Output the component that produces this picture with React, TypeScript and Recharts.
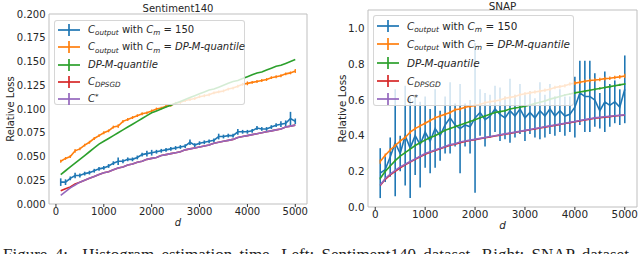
import React from 'react';
import { LineChart, Line, XAxis, YAxis, ErrorBar, ReferenceArea, Legend, Label } from 'recharts';

const D = [100, 200, 300, 400, 500, 600, 700, 800, 900, 1000, 1100, 1200, 1300, 1400, 1500, 1600, 1700, 1800, 1900, 2000, 2100, 2200, 2300, 2400, 2500, 2600, 2700, 2800, 2900, 3000, 3100, 3200, 3300, 3400, 3500, 3600, 3700, 3800, 3900, 4000, 4100, 4200, 4300, 4400, 4500, 4600, 4700, 4800, 4900, 5000];
const X_TICKS = [0, 1000, 2000, 3000, 4000, 5000];

// Sentiment140
const S_Y_TICKS = [0, 0.025, 0.05, 0.075, 0.1, 0.125, 0.15, 0.175, 0.2];
const S_BLUE = [0.023, 0.023, 0.027, 0.030, 0.030, 0.032, 0.033, 0.035, 0.037, 0.038, 0.040, 0.043, 0.045, 0.045, 0.047, 0.047, 0.049, 0.052, 0.053, 0.054, 0.055, 0.056, 0.057, 0.058, 0.059, 0.060, 0.061, 0.065, 0.062, 0.064, 0.065, 0.066, 0.067, 0.071, 0.071, 0.072, 0.072, 0.076, 0.076, 0.076, 0.077, 0.080, 0.079, 0.079, 0.081, 0.083, 0.084, 0.085, 0.090, 0.087];
const S_BLUE_ERR = [0.004, 0.003, 0.002, 0.003, 0.002, 0.002, 0.002, 0.002, 0.002, 0.002, 0.002, 0.002, 0.004, 0.002, 0.002, 0.002, 0.002, 0.002, 0.003, 0.003, 0.002, 0.002, 0.002, 0.002, 0.002, 0.002, 0.002, 0.003, 0.002, 0.002, 0.002, 0.002, 0.002, 0.003, 0.002, 0.002, 0.002, 0.003, 0.002, 0.002, 0.002, 0.002, 0.002, 0.002, 0.002, 0.002, 0.003, 0.003, 0.007, 0.003];
const S_ORANGE = [0.045, 0.048, 0.050, 0.056, 0.058, 0.062, 0.065, 0.069, 0.072, 0.075, 0.077, 0.081, 0.082, 0.087, 0.089, 0.091, 0.093, 0.095, 0.096, 0.098, 0.100, 0.101, 0.103, 0.104, 0.106, 0.107, 0.109, 0.110, 0.111, 0.113, 0.114, 0.115, 0.117, 0.118, 0.119, 0.121, 0.122, 0.124, 0.126, 0.127, 0.128, 0.129, 0.130, 0.131, 0.133, 0.134, 0.135, 0.137, 0.138, 0.140];
const S_ORANGE_ERR = [0.0015, 0.0015, 0.0015, 0.002, 0.0015, 0.0015, 0.0015, 0.0015, 0.0015, 0.0015, 0.0015, 0.0015, 0.002, 0.0015, 0.0015, 0.0015, 0.0015, 0.0015, 0.0015, 0.0015, 0.0015, 0.0015, 0.0015, 0.0015, 0.0015, 0.0015, 0.0015, 0.0015, 0.0015, 0.0015, 0.0015, 0.0015, 0.0015, 0.0015, 0.0015, 0.0015, 0.0015, 0.0015, 0.0015, 0.002, 0.0015, 0.0015, 0.0015, 0.0015, 0.0015, 0.0015, 0.0015, 0.0015, 0.0015, 0.002];
const S_GREEN = [0.031, 0.035, 0.039, 0.043, 0.047, 0.051, 0.055, 0.059, 0.063, 0.066, 0.069, 0.072, 0.075, 0.078, 0.081, 0.084, 0.087, 0.090, 0.093, 0.096, 0.098, 0.100, 0.102, 0.104, 0.106, 0.108, 0.110, 0.112, 0.114, 0.116, 0.118, 0.120, 0.121, 0.123, 0.125, 0.127, 0.129, 0.130, 0.132, 0.134, 0.136, 0.138, 0.139, 0.141, 0.143, 0.145, 0.146, 0.148, 0.150, 0.152];
const S_RED = [0.014, 0.016, 0.018, 0.021, 0.023, 0.025, 0.027, 0.029, 0.031, 0.033, 0.034, 0.036, 0.038, 0.039, 0.041, 0.042, 0.044, 0.045, 0.047, 0.048, 0.049, 0.051, 0.052, 0.053, 0.054, 0.055, 0.057, 0.058, 0.059, 0.060, 0.061, 0.062, 0.064, 0.065, 0.066, 0.067, 0.068, 0.070, 0.071, 0.072, 0.073, 0.074, 0.075, 0.076, 0.077, 0.078, 0.079, 0.081, 0.082, 0.083];
const S_PURPLE = [0.009, 0.013, 0.017, 0.020, 0.023, 0.025, 0.027, 0.029, 0.031, 0.033, 0.034, 0.036, 0.038, 0.039, 0.041, 0.042, 0.044, 0.045, 0.047, 0.048, 0.049, 0.051, 0.052, 0.053, 0.054, 0.055, 0.057, 0.058, 0.059, 0.060, 0.061, 0.062, 0.064, 0.065, 0.066, 0.067, 0.068, 0.070, 0.071, 0.072, 0.073, 0.074, 0.075, 0.076, 0.077, 0.078, 0.079, 0.081, 0.082, 0.083];

// SNAP
const N_Y_TICKS = [0, 0.2, 0.4, 0.6, 0.8, 1.0];
const N_BLUE = [0.19, 0.21, 0.28, 0.36, 0.30, 0.40, 0.33, 0.40, 0.35, 0.42, 0.37, 0.44, 0.40, 0.46, 0.50, 0.46, 0.44, 0.46, 0.45, 0.50, 0.53, 0.49, 0.51, 0.55, 0.52, 0.50, 0.54, 0.51, 0.55, 0.50, 0.53, 0.50, 0.54, 0.51, 0.55, 0.51, 0.54, 0.51, 0.52, 0.56, 0.64, 0.62, 0.62, 0.60, 0.54, 0.59, 0.57, 0.59, 0.56, 0.66];
const N_BLUE_ERR = [0.14, 0.07, 0.11, 0.30, 0.10, 0.28, 0.28, 0.22, 0.24, 0.20, 0.18, 0.22, 0.14, 0.16, 0.20, 0.12, 0.25, 0.12, 0.15, 0.42, 0.13, 0.15, 0.12, 0.13, 0.15, 0.12, 0.18, 0.12, 0.14, 0.13, 0.12, 0.11, 0.16, 0.12, 0.14, 0.11, 0.12, 0.11, 0.10, 0.17, 0.18, 0.20, 0.20, 0.15, 0.10, 0.17, 0.12, 0.12, 0.10, 0.19];
const N_ORANGE = [0.255, 0.29, 0.32, 0.345, 0.37, 0.39, 0.42, 0.44, 0.455, 0.47, 0.485, 0.50, 0.51, 0.52, 0.53, 0.545, 0.55, 0.56, 0.565, 0.57, 0.575, 0.585, 0.59, 0.595, 0.60, 0.61, 0.615, 0.62, 0.63, 0.635, 0.64, 0.645, 0.65, 0.655, 0.66, 0.67, 0.675, 0.68, 0.69, 0.695, 0.70, 0.705, 0.71, 0.712, 0.715, 0.72, 0.722, 0.726, 0.73, 0.735];
const N_ORANGE_ERR = [0.012, 0.010, 0.010, 0.010, 0.010, 0.010, 0.010, 0.010, 0.010, 0.010, 0.010, 0.010, 0.010, 0.010, 0.010, 0.010, 0.010, 0.010, 0.010, 0.010, 0.010, 0.010, 0.010, 0.010, 0.010, 0.010, 0.010, 0.010, 0.010, 0.010, 0.010, 0.010, 0.010, 0.010, 0.010, 0.010, 0.010, 0.010, 0.010, 0.010, 0.010, 0.010, 0.010, 0.010, 0.010, 0.010, 0.010, 0.010, 0.010, 0.012];
const N_GREEN = [0.16, 0.20, 0.23, 0.26, 0.285, 0.305, 0.325, 0.345, 0.36, 0.375, 0.39, 0.40, 0.415, 0.43, 0.44, 0.45, 0.46, 0.47, 0.48, 0.49, 0.50, 0.51, 0.52, 0.53, 0.535, 0.54, 0.55, 0.555, 0.56, 0.565, 0.572, 0.58, 0.588, 0.595, 0.605, 0.612, 0.62, 0.628, 0.634, 0.64, 0.645, 0.65, 0.655, 0.66, 0.665, 0.67, 0.675, 0.68, 0.685, 0.69];
const N_GREEN_ERR = [0.006, 0.006, 0.006, 0.006, 0.006, 0.006, 0.006, 0.006, 0.006, 0.006, 0.006, 0.006, 0.006, 0.006, 0.006, 0.006, 0.006, 0.006, 0.006, 0.006, 0.006, 0.006, 0.006, 0.006, 0.006, 0.006, 0.006, 0.006, 0.006, 0.006, 0.006, 0.006, 0.006, 0.006, 0.006, 0.006, 0.006, 0.006, 0.006, 0.006, 0.006, 0.006, 0.006, 0.006, 0.006, 0.006, 0.006, 0.006, 0.006, 0.006];
const N_RED = [0.12, 0.155, 0.18, 0.20, 0.22, 0.236, 0.252, 0.267, 0.282, 0.296, 0.307, 0.317, 0.327, 0.337, 0.346, 0.352, 0.361, 0.367, 0.373, 0.378, 0.383, 0.388, 0.393, 0.398, 0.403, 0.408, 0.413, 0.418, 0.423, 0.428, 0.433, 0.438, 0.443, 0.448, 0.453, 0.458, 0.463, 0.468, 0.473, 0.478, 0.483, 0.488, 0.493, 0.498, 0.501, 0.504, 0.507, 0.51, 0.513, 0.515];
const N_PURPLE = [0.124, 0.16, 0.185, 0.205, 0.225, 0.24, 0.255, 0.27, 0.285, 0.30, 0.31, 0.32, 0.33, 0.34, 0.35, 0.355, 0.365, 0.37, 0.375, 0.38, 0.385, 0.39, 0.395, 0.40, 0.405, 0.41, 0.415, 0.42, 0.425, 0.43, 0.435, 0.44, 0.445, 0.45, 0.455, 0.46, 0.465, 0.47, 0.475, 0.48, 0.485, 0.49, 0.495, 0.50, 0.503, 0.506, 0.509, 0.512, 0.515, 0.517];

const BLUE = '#1f77b4';
const ORANGE = '#ff7f0e';
const GREEN = '#2ca02c';
const RED = '#d62728';
const PURPLE = '#9467bd';
const FONT = '"DejaVu Sans", sans-serif';
const TXT = '#262626';

const sentRows = D.map((d, i) => ({
  d,
  blue: S_BLUE[i], blueErr: S_BLUE_ERR[i],
  orange: S_ORANGE[i], orangeErr: S_ORANGE_ERR[i],
  green: S_GREEN[i], red: S_RED[i], purple: S_PURPLE[i],
}));
const snapRows = D.map((d, i) => ({
  d,
  blue: N_BLUE[i], blueErr: N_BLUE_ERR[i],
  orange: N_ORANGE[i], orangeErr: N_ORANGE_ERR[i],
  green: N_GREEN[i], greenErr: N_GREEN_ERR[i],
  red: N_RED[i], purple: N_PURPLE[i],
}));

const sub = (s: string) => (
  <span style={{ fontSize: '0.72em', fontStyle: 'italic', position: 'relative', top: '0.3em' }}>{s}</span>
);

const LEGEND_ITEMS = [
  { color: BLUE, label: <><i>C</i>{sub('output')} with <i>C</i>{sub('m')} = 150</> },
  { color: ORANGE, label: <><i>C</i>{sub('output')} with <i>C</i>{sub('m')} = <i>DP-M-quantile</i></> },
  { color: GREEN, label: <i>DP-M-quantile</i> },
  { color: RED, label: <><i>C</i>{sub('DPSGD')}</> },
  { color: PURPLE, label: <><i>C</i><span style={{ fontSize: '0.72em', position: 'relative', top: '-0.45em' }}>*</span></> },
];

const makeLegend = (fs: number, rowH: number, padTop: number) => () => (
  <div style={{
    boxSizing: 'border-box', width: '100%', height: '100%',
    border: '1px solid rgba(204,204,204,0.8)', borderRadius: 3,
    background: 'rgba(255,255,255,0.8)', paddingTop: padTop,
    fontFamily: FONT, fontSize: fs, color: TXT, whiteSpace: 'nowrap',
  }}>
    {LEGEND_ITEMS.map((it, k) => (
      <div key={k} style={{ height: rowH, display: 'flex', alignItems: 'center' }}>
        <svg width={24} height={12} style={{ marginLeft: 2, marginRight: 7, flex: 'none' }}>
          <line x1={1} x2={23} y1={6} y2={6} stroke={it.color} strokeWidth={1.7} />
          <line x1={12} x2={12} y1={0} y2={12} stroke={it.color} strokeWidth={1.7} />
        </svg>
        <span style={{ lineHeight: 1 }}>{it.label}</span>
      </div>
    ))}
  </div>
);

type PanelProps = {
  rows: any[];
  title: string;
  titleOffset: number;
  yMax: number;
  yTicks: number[];
  yFmt: (v: number) => string;
  width: number;
  height: number;
  top: number;
  right: number;
  yAxisWidth: number;
  fs: number;
  legend: { left: number; top: number; width: number; height: number; rowH: number; padTop: number; fs: number };
  yLabelX: number;
  greenErr?: boolean;
};

function Panel(p: PanelProps) {
  const tick = { fontFamily: FONT, fontSize: p.fs, fill: TXT };
  return (
    <LineChart width={p.width} height={p.height} data={p.rows}
      margin={{ top: p.top, right: p.right, bottom: 0, left: 0 }}>
      <XAxis type="number" dataKey="d" domain={[-145, 5245]} ticks={X_TICKS} allowDataOverflow
        axisLine={false} tickLine={{ stroke: '#333' }} tickSize={3} tickMargin={1} tick={tick}
        height={26} interval={0}>
        <Label content={(lp: any) => {
          const vb = lp.viewBox;
          return <text x={vb.x + vb.width / 2} y={vb.y + 22} textAnchor="middle"
            style={{ fontFamily: FONT, fontSize: p.fs, fontStyle: 'italic', fill: TXT }}>d</text>;
        }} />
      </XAxis>
      <YAxis type="number" domain={[0, p.yMax]} ticks={p.yTicks} allowDataOverflow
        axisLine={false} tickLine={false} tickSize={2} tickMargin={1.5} tick={tick}
        tickFormatter={p.yFmt} width={p.yAxisWidth} interval={0}>
        <Label content={(lp: any) => {
          const vb = lp.viewBox;
          return <text transform={`translate(${p.yLabelX}, ${vb.y + vb.height / 2}) rotate(-90)`}
            textAnchor="middle" dominantBaseline="central"
            style={{ fontFamily: FONT, fontSize: p.fs, fill: TXT }}>Relative Loss</text>;
        }} />
      </YAxis>
      <ReferenceArea x1={-145} x2={5245} y1={0} y2={p.yMax} fill="none" stroke="#bfbfbf" strokeWidth={1}
        ifOverflow="visible"
        label={{ value: p.title, position: 'top', offset: p.titleOffset, style: { fontFamily: FONT, fontSize: p.fs, fill: TXT } }} />
      <Line dataKey="blue" stroke={BLUE} strokeWidth={1.6} dot={false} activeDot={false} isAnimationActive={false}>
        <ErrorBar dataKey="blueErr" direction="y" width={0} stroke={BLUE} strokeWidth={1.6} />
      </Line>
      <Line dataKey="orange" stroke={ORANGE} strokeWidth={1.6} dot={false} activeDot={false} isAnimationActive={false}>
        <ErrorBar dataKey="orangeErr" direction="y" width={0} stroke={ORANGE} strokeWidth={1.3} />
      </Line>
      {p.greenErr ? (
        <Line dataKey="green" stroke={GREEN} strokeWidth={1.6} dot={false} activeDot={false} isAnimationActive={false}>
          <ErrorBar dataKey="greenErr" direction="y" width={0} stroke={GREEN} strokeWidth={1.3} />
        </Line>
      ) : (
        <Line dataKey="green" stroke={GREEN} strokeWidth={1.6} dot={false} activeDot={false} isAnimationActive={false} />
      )}
      <Line dataKey="red" stroke={RED} strokeWidth={1.6} dot={false} activeDot={false} isAnimationActive={false} />
      <Line dataKey="purple" stroke={PURPLE} strokeWidth={1.6} dot={false} activeDot={false} isAnimationActive={false} />
      <Legend layout="horizontal" verticalAlign="middle" align="center"
        content={makeLegend(p.legend.fs, p.legend.rowH, p.legend.padTop)}
        wrapperStyle={{ left: p.legend.left, top: p.legend.top, width: p.legend.width, height: p.legend.height, bottom: 'auto' }} />
    </LineChart>
  );
}

export default function App() {
  return (
    <div style={{ position: 'absolute', left: 0, top: 0, width: 640, height: 254, overflow: 'hidden', background: '#fff' }}>
      <div style={{ position: 'absolute', left: 0, top: 0 }}>
        <Panel rows={sentRows} title="Sentiment140" titleOffset={2} yMax={0.2} yTicks={S_Y_TICKS} yFmt={(v) => v.toFixed(3)}
          width={320} height={230} top={14} right={13} yAxisWidth={49} fs={10}
          legend={{ left: 54, top: 20, width: 191, height: 85, rowH: 17.3, padTop: 0.5, fs: 10 }}
          yLabelX={10} />
      </div>
      <div style={{ position: 'absolute', left: 320, top: 0 }}>
        <Panel rows={snapRows} title="SNAP" titleOffset={0.5} yMax={1.105} yTicks={N_Y_TICKS} yFmt={(v) => v.toFixed(1)}
          width={320} height={233} top={10} right={3} yAxisWidth={48} fs={10.4}
          legend={{ left: 53, top: 15, width: 201, height: 91, rowH: 18.3, padTop: 1, fs: 10.4 }}
          yLabelX={22} greenErr />
      </div>
      <div style={{ position: 'absolute', left: 3, top: 246, fontFamily: '"Liberation Serif", serif', fontSize: 17, lineHeight: 1, color: '#222', whiteSpace: 'nowrap', wordSpacing: 3 }}>
        Figure 4:&nbsp;&nbsp;Histogram estimation time. Left: Sentiment140 dataset. Right: SNAP dataset.
      </div>
    </div>
  );
}
